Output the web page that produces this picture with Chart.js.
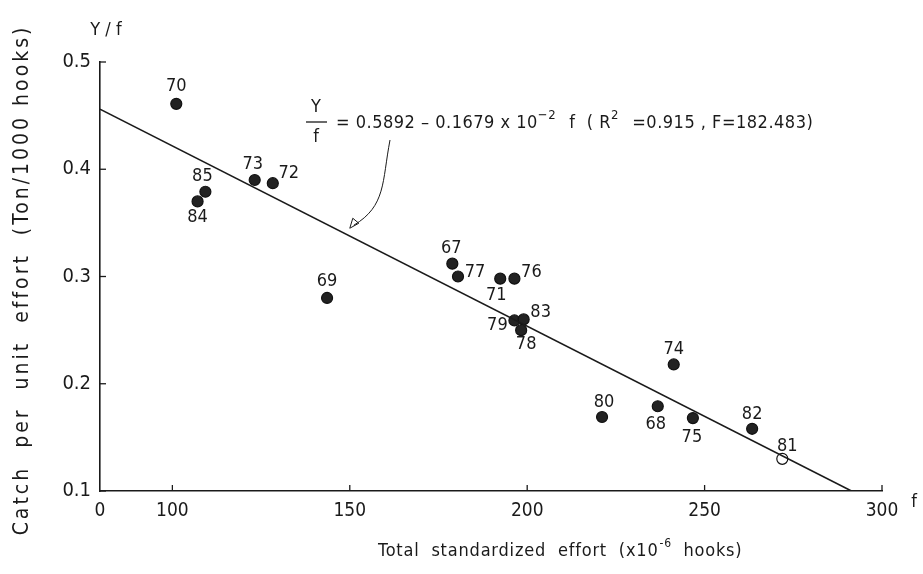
<!DOCTYPE html>
<html lang="en">
<head>
    <meta charset="UTF-8">
    <script src="https://cdn.jsdelivr.net/npm/chart.js"></script>
    <title>CPUE vs effort</title>
</head>
<style>
    body { margin: 0; background: #fff; }
    #wrap { width: 923px; height: 574px; }
</style>
<body>
    <div id="wrap"><canvas id="chart"></canvas></div>
</body>
<script>
    // year labels, effort (x10^-6 hooks) and catch per unit effort (ton/1000 hooks)
    const years  = ['70', '85', '84', '73', '72', '69', '67', '77', '71', '76', '79', '83', '78', '74', '80', '68', '75', '82', '81'];
    const effort = [101.1, 109.3, 107.1, 123.2, 128.3, 143.6, 178.9, 180.5, 192.4, 196.4, 196.4, 199.0, 198.3, 241.3, 221.1, 236.8, 246.7, 263.4, 271.9];
    const cpue   = [0.461, 0.379, 0.370, 0.390, 0.387, 0.280, 0.312, 0.300, 0.298, 0.298, 0.259, 0.260, 0.250, 0.218, 0.169, 0.179, 0.168, 0.158, 0.130];

    // regression line end points
    const lineX = [79.6, 291.4];
    const lineY = [0.456, 0.100];

    // axis (the x axis is broken: its left end is labelled 0)
    const xMin = 79.6;
    const xTickValues = [xMin, 100, 150, 200, 250, 300];
    const xTickLabels = ['0', '100', '150', '200', '250', '300'];
    const yTickValues = [0.1, 0.2, 0.3, 0.4, 0.5];

    // where each year label sits relative to its dot (px)
    const labelOffsets = [
        [0, -17], [-3, -15], [0, 16], [-2, -16], [16, -10], [0, -17], [-1, -15], [17, -4], [-4, 17], [17, -6],
        [-17, 5], [17, -7], [5, 14], [0, -15], [2, -15], [-2, 18], [-1, 19], [0, -14], [5, -12]
    ];

    const FONT = '"DejaVu Sans Condensed", "Liberation Sans Narrow", "DejaVu Sans", sans-serif';
    const INK = '#1a1a1a';

    const extras = {
        id: 'extras',
        afterDraw(chart) {
            const ctx = chart.ctx;
            const xs = chart.scales.x, ys = chart.scales.y;
            const area = chart.chartArea;
            ctx.save();
            ctx.strokeStyle = INK;
            ctx.fillStyle = INK;
            ctx.lineWidth = 1.3;

            // inward ticks
            yTickValues.forEach(v => {
                const py = ys.getPixelForValue(v);
                ctx.beginPath(); ctx.moveTo(area.left, py); ctx.lineTo(area.left + 6, py); ctx.stroke();
            });
            xTickValues.slice(1).forEach(v => {
                const px = xs.getPixelForValue(v);
                ctx.beginPath(); ctx.moveTo(px, area.bottom); ctx.lineTo(px, area.bottom - 6); ctx.stroke();
            });

            // year labels
            ctx.font = '18px ' + FONT;
            ctx.textAlign = 'center';
            ctx.textBaseline = 'middle';
            const meta = chart.getDatasetMeta(1);
            meta.data.forEach((pt, i) => {
                ctx.fillText(years[i], pt.x + labelOffsets[i][0], pt.y + labelOffsets[i][1]);
            });

            // regression equation
            ctx.font = '18px ' + FONT;
            ctx.textAlign = 'center';
            ctx.fillText('Y', 316, 107);
            ctx.fillText('f', 316, 137);
            ctx.beginPath(); ctx.moveTo(306, 122); ctx.lineTo(327, 122); ctx.stroke();
            ctx.textAlign = 'left';
            ctx.textBaseline = 'alphabetic';
            ctx.letterSpacing = '0.5px';
            let cx = 336;
            const base = 128;
            const parts = [
                ['= 0.5892 \u2013 0.1679 x 10', 0], ['\u22122', -9], ['  f  ( R', 0], ['2', -9], ['  =0.915 , F=182.483)', 0]
            ];
            parts.forEach(p => {
                ctx.font = (p[1] ? '13px ' : '18px ') + FONT;
                ctx.fillText(p[0], cx, base + p[1]);
                cx += ctx.measureText(p[0]).width + (p[1] ? 2 : 0);
            });
            ctx.letterSpacing = '0px';

            // curved arrow from the equation to the line
            const tipX = xs.getPixelForValue(150);
            const tipY = ys.getPixelForValue(0.345);
            ctx.lineWidth = 1;
            ctx.beginPath();
            ctx.moveTo(390, 140);
            ctx.bezierCurveTo(382, 182, 386, 206, tipX + 4, tipY - 3);
            ctx.stroke();
            ctx.beginPath();
            ctx.moveTo(tipX, tipY);
            ctx.lineTo(tipX + 3, tipY - 10);
            ctx.lineTo(tipX + 9, tipY - 5);
            ctx.closePath();
            ctx.stroke();

            // axis titles
            ctx.font = '18px ' + FONT;
            ctx.textAlign = 'left';
            ctx.textBaseline = 'middle';
            ctx.letterSpacing = '0.8px';
            const t1 = 'Total  standardized  effort  (x10';
            const x0 = 378;
            ctx.fillText(t1, x0, 551);
            const w1 = ctx.measureText(t1).width;
            ctx.font = '12px ' + FONT;
            ctx.fillText('-6', x0 + w1 + 1, 544);
            ctx.font = '18px ' + FONT;
            ctx.fillText('  hooks)', x0 + w1 + 13, 551);

            ctx.save();
            ctx.translate(23, 280);
            ctx.rotate(-Math.PI / 2);
            ctx.textAlign = 'center';
            ctx.font = '21px ' + FONT;
            ctx.letterSpacing = '3px';
            ctx.fillText('Catch  per  unit  effort  (Ton/1000 hooks)', 0, 0);
            ctx.restore();

            ctx.letterSpacing = '0px';
            ctx.font = '18px ' + FONT;
            ctx.textAlign = 'center';
            ctx.fillText('Y / f', 106, 30);
            ctx.fillText('f', 914, 502);
            ctx.restore();
        }
    };

    const ctx = document.getElementById('chart').getContext('2d');
    new Chart(ctx, {
        type: 'scatter',
        data: {
            datasets: [
                {
                    type: 'line',
                    data: lineX.map((x, i) => ({ x: x, y: lineY[i] })),
                    borderColor: INK,
                    borderWidth: 1.6,
                    pointRadius: 0,
                    fill: false
                },
                {
                    data: effort.map((x, i) => ({ x: x, y: cpue[i] })),
                    pointRadius: 5.5,
                    pointBackgroundColor: years.map(y => y === '81' ? '#fff' : '#222'),
                    pointBorderColor: '#111',
                    pointBorderWidth: 1.2
                }
            ]
        },
        options: {
            responsive: true,
            maintainAspectRatio: false,
            animation: false,
            layout: { padding: { top: 62, right: 41, left: 0, bottom: 0 } },
            plugins: { legend: { display: false }, tooltip: { enabled: false } },
            scales: {
                x: {
                    type: 'linear',
                    min: xMin,
                    max: 300,
                    grid: { display: false, drawTicks: false },
                    border: { color: INK, width: 1.6 },
                    afterBuildTicks: s => { s.ticks = xTickValues.map(v => ({ value: v })); },
                    afterFit: s => { s.height = 83; },
                    ticks: {
                        autoSkip: false,
                        maxRotation: 0,
                        padding: 9,
                        color: INK,
                        font: { family: FONT, size: 19 },
                        callback: (v, i) => xTickLabels[i]
                    }
                },
                y: {
                    min: 0.1,
                    max: 0.5,
                    grid: { display: false, drawTicks: false },
                    border: { color: INK, width: 1.6 },
                    afterBuildTicks: s => { s.ticks = yTickValues.map(v => ({ value: v })); },
                    afterFit: s => { s.width = 100; },
                    ticks: {
                        padding: 9,
                        color: INK,
                        font: { family: FONT, size: 20 },
                        callback: v => v.toFixed(1)
                    }
                }
            }
        },
        plugins: [extras]
    });
</script>
</html>
